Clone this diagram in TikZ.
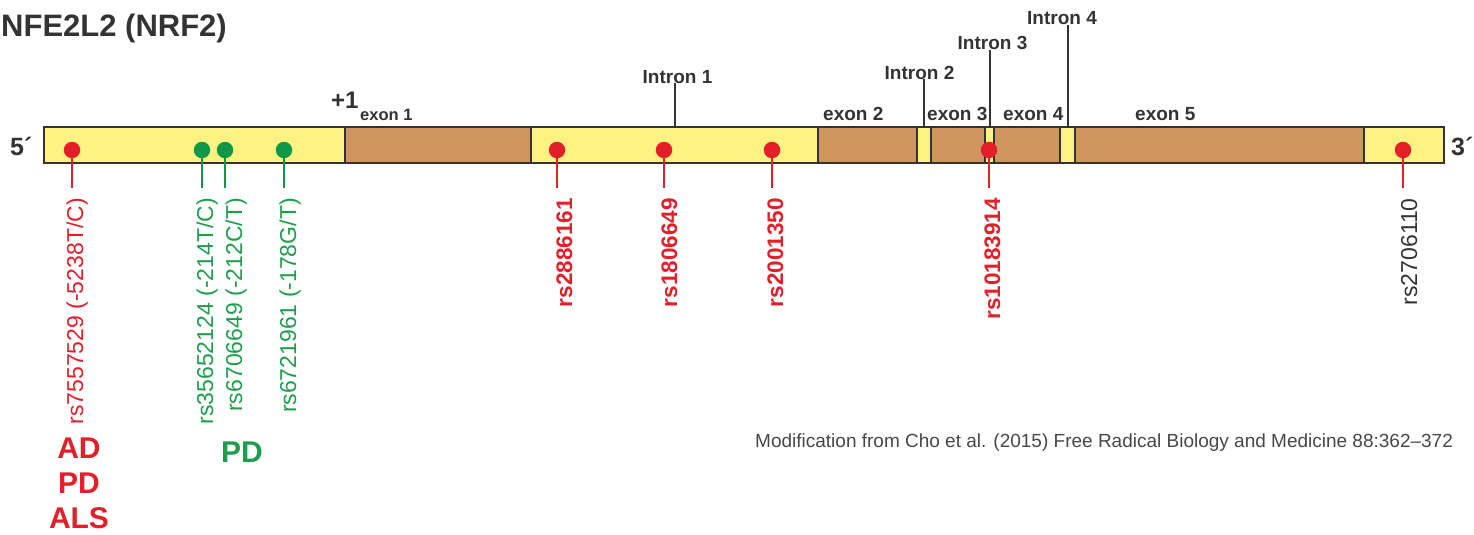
\documentclass[tikz,border=0pt]{standalone}
\usepackage{fontspec}
\setmainfont{Liberation Sans}
\definecolor{yel}{HTML}{FFF282}
\definecolor{brn}{HTML}{D09460}
\definecolor{rd}{HTML}{E3202A}
\definecolor{gn}{HTML}{109848}
\definecolor{gtext}{HTML}{1E9E4C}
\definecolor{dk}{HTML}{333333}
\newcommand\fsz[1]{\fontsize{#1}{#1}\selectfont}
\tikzset{
  seg/.style={draw=dk, line width=2.4pt, minimum height=36pt, inner sep=0pt, outer sep=0pt, anchor=west},
  dotn/.style={circle, fill=#1, minimum size=16.5pt, inner sep=0pt},
  stemline/.style={draw=#1, line width=2.4pt, shorten >=10pt},
  snp/.style={rotate=90, anchor=base east, inner sep=0pt, font=\fsz{23}},
  snpb/.style={rotate=90, anchor=base east, inner sep=0pt, font=\fsz{22.5}\bfseries},
  lab/.style={inner sep=0pt, text=dk, font=\fsz{19}\bfseries},
  intronline/.style={draw=dk, line width=2pt},
  dis/.style={inner sep=0pt, anchor=base, font=\fsz{30}\bfseries}
}
\begin{document}
\begin{tikzpicture}[x=1pt,y=-1pt]
\useasboundingbox (0,0) rectangle (1474,535);
% title
\node[inner sep=0pt, anchor=base west, text=dk, font=\fsz{31}\bfseries] (title) at (1,37) {NFE2L2 (NRF2)};
% bar
\node[seg, fill=yel, minimum width=301pt] (u5) at (44,145) {};
\node[seg, fill=brn, minimum width=186pt] (e1) at (345,145) {};
\node[seg, fill=yel, minimum width=287pt] (i1) at (531,145) {};
\node[seg, fill=brn, minimum width=99pt] (e2) at (818,145) {};
\node[seg, fill=yel, minimum width=14pt] (i2) at (917,145) {};
\node[seg, fill=brn, minimum width=54pt] (e3) at (931,145) {};
\node[seg, fill=yel, minimum width=9pt] (i3) at (985,145) {};
\node[seg, fill=brn, minimum width=66pt] (e4) at (994,145) {};
\node[seg, fill=yel, minimum width=15pt] (i4) at (1060,145) {};
\node[seg, fill=brn, minimum width=289pt] (e5) at (1075,145) {};
\node[seg, fill=yel, minimum width=80pt] (u3) at (1364,145) {};
% ends
\node[inner sep=0pt, anchor=base west, text=dk, font=\fsz{25}\bfseries] (p5) at (10,155) {5´};
\node[inner sep=0pt, anchor=base west, text=dk, font=\fsz{25}\bfseries] (p3) at (1451,155) {3´};
% exon labels
\node[inner sep=0pt, anchor=base west, text=dk, font=\fsz{24}\bfseries] (plus) at (331,108) {+1};
\node[inner sep=0pt, anchor=base west, text=dk, font=\fsz{16.5}\bfseries] (ex1) at (360,120) {exon 1};
\node[lab, anchor=base west] (ex2) at (823,120) {exon 2};
\node[lab, anchor=base west] (ex3) at (927,120) {exon 3};
\node[lab, anchor=base west] (ex4) at (1003,120) {exon 4};
\node[lab, anchor=base west] (ex5) at (1135,120) {exon 5};
% intron labels
\node[lab, anchor=base] (in1) at (677.5,83) {Intron 1};
\node[lab, anchor=base] (in2) at (919.5,79) {Intron 2};
\node[lab, anchor=base] (in3) at (992.5,50) {Intron 3};
\node[lab, anchor=base] (in4) at (1062,25) {Intron 4};
\draw[intronline] (i1.north) -- (i1.north |- in1.south);
\draw[intronline] (i2.north) -- (i2.north |- in2.south);
\draw[intronline] (i3.north) -- (i3.north |- in3.south);
\draw[intronline] (i4.north) -- (i4.north |- in4.south);
% SNP dots
\node[dotn=rd] (d1) at (72,150) {};
\node[dotn=gn] (d2) at (202,150) {};
\node[dotn=gn] (d3) at (225,150) {};
\node[dotn=gn] (d4) at (284,150) {};
\node[dotn=rd] (d5) at (557,150) {};
\node[dotn=rd] (d6) at (664,150) {};
\node[dotn=rd] (d7) at (772,150) {};
\node[dotn=rd] (d8) at (989,150) {};
\node[dotn=rd] (d9) at (1403,150) {};
% SNP labels
\node[snp, text=rd] (l1) at (83,198) {rs7557529 (-5238T/C)};
\node[snp, text=gtext] (l2) at (213,198) {rs35652124 (-214T/C)};
\node[snp, text=gtext] (l3) at (242,198) {rs6706649 (-212C/T)};
\node[snp, text=gtext] (l4) at (296,198) {rs6721961 (-178G/T)};
\node[snpb, text=rd] (l5) at (572,198) {rs2886161};
\node[snpb, text=rd] (l6) at (677,198) {rs1806649};
\node[snpb, text=rd] (l7) at (783,198) {rs2001350};
\node[snpb, text=rd] (l8) at (1000,198) {rs10183914};
\node[snp, text=dk] (l9) at (1417,198) {rs2706110};
% stems
\draw[stemline=rd] (d1.south) -- (d1.south |- l1.east);
\draw[stemline=gn] (d2.south) -- (d2.south |- l2.east);
\draw[stemline=gn] (d3.south) -- (d3.south |- l3.east);
\draw[stemline=gn] (d4.south) -- (d4.south |- l4.east);
\draw[stemline=rd] (d5.south) -- (d5.south |- l5.east);
\draw[stemline=rd] (d6.south) -- (d6.south |- l6.east);
\draw[stemline=rd] (d7.south) -- (d7.south |- l7.east);
\draw[stemline=rd] (d8.south) -- (d8.south |- l8.east);
\draw[stemline=rd] (d9.south) -- (d9.south |- l9.east);
% diseases
\node[dis, text=rd] (ad) at (79,458) {AD};
\node[dis, text=rd] (pd1) at (79,493) {PD};
\node[dis, text=rd] (als) at (79,528) {ALS};
\node[dis, text=gtext] (pd2) at (242,462) {PD};
% citation
\node[inner sep=0pt, anchor=base west, text=dk!90, font=\fsz{19}] (cite) at (755,447) {Modification from Cho et al. (2015) Free Radical Biology and Medicine 88:362–372};
\end{tikzpicture}
\end{document}
